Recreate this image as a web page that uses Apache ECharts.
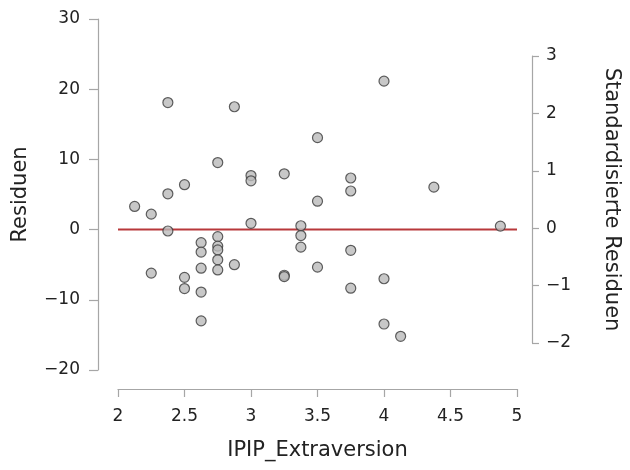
<!DOCTYPE html>
<html>
<head>
<meta charset="utf-8">
<script src="https://cdn.jsdelivr.net/npm/echarts@6/dist/echarts.min.js"></script>
<style>
  html, body { margin: 0; padding: 0; background: #ffffff; }
  #chart { width: 630px; height: 470px; }
</style>
</head>
<body>
<div id="chart"></div>
<script>
// Predictor values (IPIP_Extraversion) and model residuals
const extraversion = [
  2.125, 2.25, 2.25, 2.375, 2.375, 2.375, 2.5, 2.5, 2.5,
  2.625, 2.625, 2.625, 2.625, 2.625,
  2.75, 2.75, 2.75, 2.75, 2.75, 2.75,
  2.875, 2.875, 3.0, 3.0, 3.0,
  3.25, 3.25, 3.25, 3.375, 3.375, 3.375,
  3.5, 3.5, 3.5, 3.75, 3.75, 3.75, 3.75,
  4.0, 4.0, 4.0, 4.125, 4.375, 4.875
];
const residuals = [
  3.3, 2.2, -6.2, 18.1, 5.1, -0.2, 6.4, -6.8, -8.4,
  -1.85, -3.2, -5.5, -8.9, -13.0,
  9.55, -1.0, -2.35, -2.9, -4.3, -5.75,
  17.5, -5.0, 7.7, 6.95, 0.9,
  7.95, -6.5, -6.7, 0.55, -0.85, -2.5,
  13.1, 4.05, -5.35, 7.35, 5.5, -2.95, -8.35,
  21.15, -7.0, -13.45, -15.2, 6.05, 0.5
];

// Axis settings
const xRange = [2, 5];
const xStep = 0.5;
const residRange = [-20, 30];
const residStep = 10;
const stdRange = [-2, 3];
const stdStep = 1;

// Horizontal reference line at zero residual
const zeroLine = [[2, 0], [5, 0]];

const points = extraversion.map((x, i) => [x, residuals[i]]);

const axisColor = '#a6a6a6';
const textColor = '#222222';
const fontFamily = '"DejaVu Sans", "Noto Sans", sans-serif';

// Typographic minus sign for negative tick labels
const fmt = v => String(v).replace('-', '\u2212');

const chart = echarts.init(document.getElementById('chart'), null, { renderer: 'canvas' });

const lineStyle = { color: axisColor, width: 1.2 };

chart.setOption({
  animation: false,
  textStyle: { fontFamily: fontFamily },
  grid: [
    { left: 118, right: 113, top: 19, bottom: 100 },
    { left: 118, right: 113, top: 56, bottom: 127 }
  ],
  xAxis: [
    {
      gridIndex: 0,
      type: 'value',
      min: xRange[0], max: xRange[1], interval: xStep,
      offset: 19,
      name: 'IPIP_Extraversion',
      nameLocation: 'middle',
      nameGap: 51,
      nameTextStyle: { fontSize: 21, color: textColor, fontFamily: fontFamily },
      axisLine: { show: true, onZero: false, lineStyle: lineStyle },
      axisTick: { show: true, inside: false, length: 8, lineStyle: lineStyle },
      axisLabel: { fontSize: 17, color: textColor, margin: 19, fontFamily: fontFamily, formatter: fmt },
      splitLine: { show: false }
    },
    {
      gridIndex: 1,
      type: 'value',
      min: xRange[0], max: xRange[1],
      show: false
    }
  ],
  yAxis: [
    {
      gridIndex: 0,
      type: 'value',
      position: 'left',
      min: residRange[0], max: residRange[1], interval: residStep,
      offset: 20,
      name: 'Residuen',
      nameLocation: 'middle',
      nameGap: 67,
      nameTextStyle: { fontSize: 21, color: textColor, fontFamily: fontFamily },
      axisLine: { show: true, onZero: false, lineStyle: lineStyle },
      axisTick: { show: true, inside: false, length: 9, lineStyle: lineStyle },
      axisLabel: { fontSize: 17, color: textColor, margin: 18, fontFamily: fontFamily, formatter: fmt },
      splitLine: { show: false }
    },
    {
      gridIndex: 1,
      type: 'value',
      position: 'right',
      min: stdRange[0], max: stdRange[1], interval: stdStep,
      offset: 20,
      name: 'Standardisierte Residuen',
      nameLocation: 'middle',
      nameRotate: -90,
      nameGap: 69,
      nameTextStyle: { fontSize: 21, color: textColor, fontFamily: fontFamily },
      axisLine: { show: true, onZero: false, lineStyle: lineStyle },
      axisTick: { show: true, inside: false, length: 7, lineStyle: lineStyle },
      axisLabel: { fontSize: 17, color: textColor, margin: 14, fontFamily: fontFamily, formatter: fmt },
      splitLine: { show: false }
    }
  ],
  series: [
    {
      type: 'line',
      xAxisIndex: 0, yAxisIndex: 0,
      data: zeroLine,
      symbol: 'none',
      lineStyle: { color: '#b8383b', width: 2 },
      z: 1
    },
    {
      type: 'scatter',
      xAxisIndex: 0, yAxisIndex: 0,
      data: points,
      symbol: 'circle',
      symbolSize: 10,
      itemStyle: { color: '#bababa', borderColor: '#3a3a3a', borderWidth: 1.2 },
      z: 2
    }
  ]
});
</script>
</body>
</html>
